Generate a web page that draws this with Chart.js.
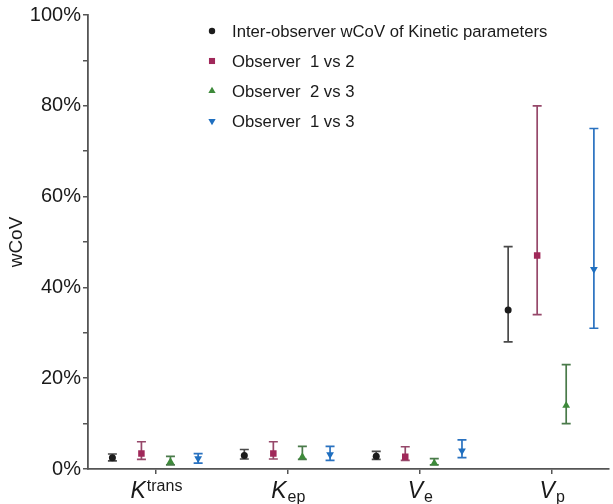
<!DOCTYPE html>
<html>
<head>
<meta charset="utf-8">
<script src="https://cdn.jsdelivr.net/npm/chart.js@4.4.0/dist/chart.umd.min.js"></script>
<style>
  html, body { margin: 0; padding: 0; background: #fff; }
  #wrap { width: 613px; height: 504px; }
</style>
</head>
<body>
<div id="wrap"><canvas id="chart"></canvas></div>
<script>
// categories: base letter + script part (sup/sub)
const catBase = ['K', 'K', 'V', 'V'];
const catScript = ['trans', 'ep', 'e', 'p'];
const catScriptPos = ['sup', 'sub', 'sub', 'sub'];

const yTicks = [0, 20, 40, 60, 80, 100];

// wCoV (%) mean with error range
const interMean = [2.5, 3.0, 2.8, 35];
const interLow = [1.8, 2.2, 2.1, 28];
const interHigh = [3.3, 4.3, 3.9, 49];

const obs12Mean = [3.4, 3.4, 2.7, 47];
const obs12Low = [2.1, 2.2, 1.9, 34];
const obs12High = [6.0, 6.0, 4.9, 80];

const obs23Mean = [1.6, 2.7, 1.3, 14];
const obs23Low = [0.9, 2.1, 0.9, 10];
const obs23High = [2.8, 5.0, 2.3, 23];

const obs13Mean = [2.3, 3.2, 4.0, 44];
const obs13Low = [1.3, 1.9, 2.5, 31];
const obs13High = [3.4, 5.0, 6.4, 75];

const FONT = '"Liberation Sans", Arial, sans-serif';
const AXIS = '#555555';

const series = [
  { label: 'Inter-observer wCoV of Kinetic parameters', mean: interMean, low: interLow, high: interHigh,
    color: '#1c1c1c', bar: '#4a4a4a', style: 'circle', rot: 0, r: 3.5 },
  { label: 'Observer  1 vs 2', mean: obs12Mean, low: obs12Low, high: obs12High,
    color: '#a0285a', bar: '#96486a', style: 'rect', rot: 0, r: 4.6 },
  { label: 'Observer  2 vs 3', mean: obs23Mean, low: obs23Low, high: obs23High,
    color: '#3d8a3a', bar: '#4a7a4a', style: 'triangle', rot: 0, r: 4.5 },
  { label: 'Observer  1 vs 3', mean: obs13Mean, low: obs13Low, high: obs13High,
    color: '#1f6fc0', bar: '#2a72c0', style: 'triangle', rot: 180, r: 4.5 },
];

// horizontal dodge inside each category
const dodge = [-0.33, -0.11, 0.11, 0.32];

const datasets = series.map((s, k) => ({
  label: s.label,
  data: s.mean.map((v, i) => ({ x: i + dodge[k], y: v, lo: s.low[i], hi: s.high[i] })),
  backgroundColor: s.color,
  borderColor: s.color,
  borderWidth: 0,
  pointStyle: s.style,
  rotation: s.rot,
  pointRadius: s.r,
  showLine: false,
  errColor: s.bar,
}));

const errorBars = {
  id: 'errorBars',
  beforeDatasetsDraw(chart) {
    const ctx = chart.ctx;
    const y = chart.scales.y;
    chart.data.datasets.forEach((ds, k) => {
      const meta = chart.getDatasetMeta(k);
      ctx.save();
      ctx.strokeStyle = ds.errColor;
      ctx.lineWidth = 1.7;
      ds.data.forEach((d, i) => {
        const px = meta.data[i].x;
        const top = y.getPixelForValue(d.hi);
        const bot = y.getPixelForValue(d.lo);
        ctx.beginPath();
        ctx.moveTo(px, top); ctx.lineTo(px, bot);
        ctx.moveTo(px - 4.5, top); ctx.lineTo(px + 4.5, top);
        ctx.moveTo(px - 4.5, bot); ctx.lineTo(px + 4.5, bot);
        ctx.stroke();
      });
      ctx.restore();
    });
  },
  afterDraw(chart) {
    const ctx = chart.ctx;
    const x = chart.scales.x;
    const base = chart.chartArea.bottom;
    // category labels with sub/superscripts
    ctx.save();
    ctx.fillStyle = '#1a1a1a';
    ctx.textBaseline = 'alphabetic';
    catBase.forEach((b, i) => {
      const bigFont = 'italic 23px ' + FONT;
      const smallFont = '16px ' + FONT;
      ctx.font = bigFont;
      const wb = ctx.measureText(b).width;
      ctx.font = smallFont;
      const ws = ctx.measureText(catScript[i]).width;
      const cx = x.getPixelForValue(i);
      const left = cx - (wb + ws) / 2;
      const baseY = base + 29;
      ctx.font = bigFont;
      ctx.textAlign = 'left';
      ctx.fillText(b, left, baseY);
      ctx.font = smallFont;
      const sy = catScriptPos[i] === 'sup' ? baseY - 7 : baseY + 4;
      ctx.fillText(catScript[i], left + wb + 1, sy);
    });
    ctx.restore();

    // legend
    ctx.save();
    ctx.font = '16.7px ' + FONT;
    ctx.textBaseline = 'middle';
    ctx.textAlign = 'left';
    chart.data.datasets.forEach((ds, k) => {
      const ly = 31 + k * 30;
      ctx.fillStyle = ds.backgroundColor;
      ctx.strokeStyle = ds.backgroundColor;
      Chart.helpers.drawPoint(ctx, {
        pointStyle: ds.pointStyle, rotation: ds.rotation, radius: ds.pointRadius - 0.3, borderWidth: 0,
      }, 212, ly);
      ctx.fillStyle = '#1a1a1a';
      ctx.fillText(ds.label, 232, ly + 1);
    });
    ctx.restore();
  },
};

new Chart(document.getElementById('chart'), {
  type: 'scatter',
  data: { datasets },
  plugins: [errorBars],
  options: {
    responsive: true,
    maintainAspectRatio: false,
    animation: false,
    layout: { padding: { top: 15, right: 0, bottom: 0, left: 0 } },
    plugins: { legend: { display: false }, tooltip: { enabled: false } },
    scales: {
      x: {
        type: 'linear',
        min: -0.515,
        max: 3.43,
        afterBuildTicks(scale) {
          scale.ticks = catBase.map((_, i) => ({ value: i }));
        },
        afterFit(scale) { scale.height = 35; },
        ticks: { callback: () => '', font: { size: 1 } },
        grid: { drawOnChartArea: false, drawTicks: true, tickLength: 5, color: AXIS, lineWidth: 1.5 },
        border: { color: AXIS, width: 1.8 },
      },
      y: {
        min: 0,
        max: 100,
        afterBuildTicks(scale) {
          const t = [];
          for (let v = 0; v <= 100; v += 10) t.push({ value: v });
          scale.ticks = t;
        },
        afterFit(scale) { scale.width = 88; },
        ticks: {
          callback: v => (yTicks.includes(v) ? v + '%' : ''),
          color: '#1a1a1a',
          font: { family: FONT, size: 20 },
          padding: 2,
        },
        grid: { drawOnChartArea: false, drawTicks: true, tickLength: 5, color: AXIS, lineWidth: 1.5 },
        border: { color: AXIS, width: 1.8 },
        title: { display: true, text: 'wCoV', color: '#1a1a1a', font: { family: FONT, size: 19 }, padding: { top: 5, bottom: 0 } },
      },
    },
  },
});
</script>
</body>
</html>
